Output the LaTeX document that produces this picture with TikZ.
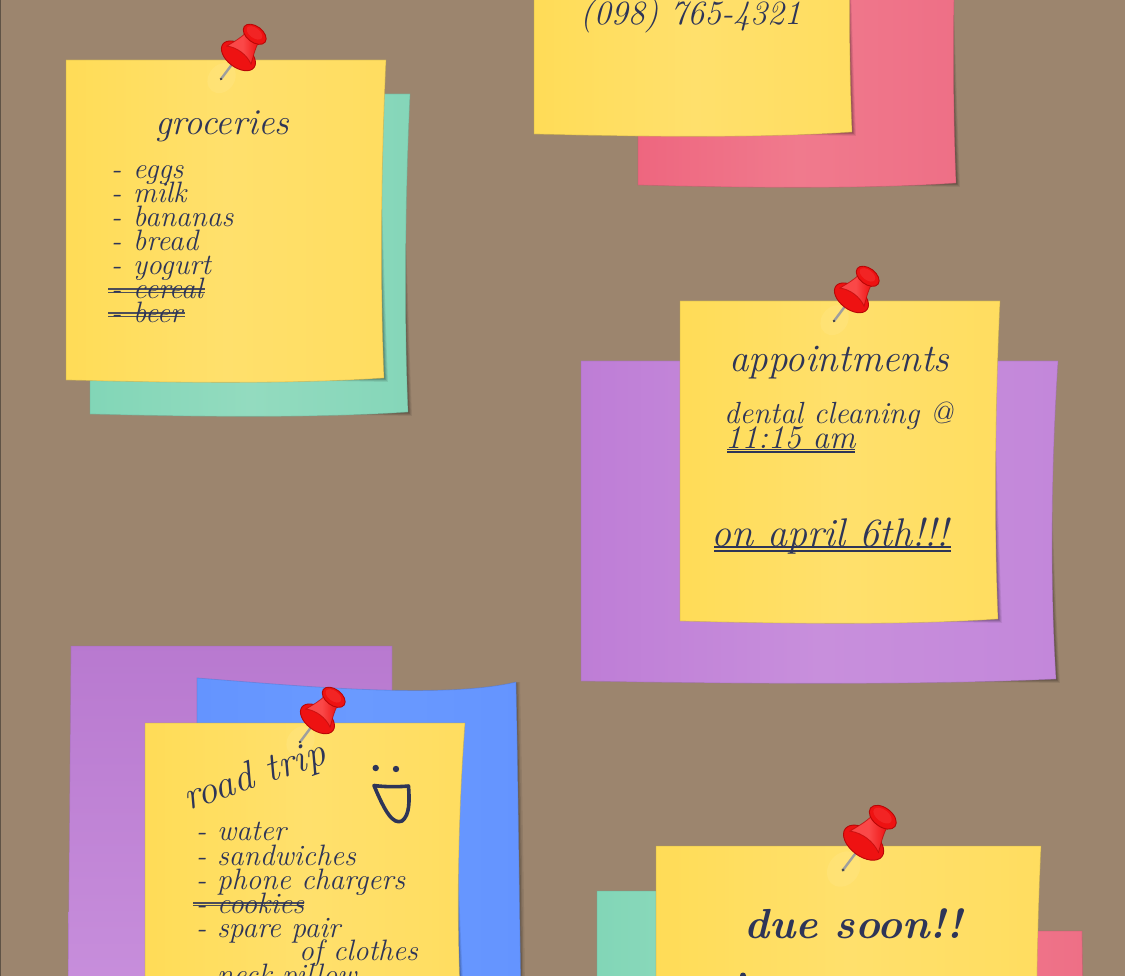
\documentclass[tikz,border=0pt]{standalone}
\usepackage{xcolor}
\definecolor{board}{HTML}{9C856E}
\definecolor{boardedge}{HTML}{5F5346}
\definecolor{ink}{HTML}{2E3558}
\definecolor{yL}{HTML}{FFDC57}\definecolor{yM}{HTML}{FFE06C}\definecolor{yR}{HTML}{FFDD60}
\definecolor{tL}{HTML}{82D6B7}\definecolor{tM}{HTML}{93DBBF}\definecolor{tR}{HTML}{85D6B9}
\definecolor{pL}{HTML}{EE667F}\definecolor{pM}{HTML}{F07A8D}\definecolor{pR}{HTML}{EE6F86}
\definecolor{vL}{HTML}{BE7DD6}\definecolor{vM}{HTML}{C88FDC}\definecolor{vR}{HTML}{C387DA}
\definecolor{bL}{HTML}{6494FF}\definecolor{bM}{HTML}{6A9AFF}\definecolor{bR}{HTML}{6494FF}
\definecolor{pinred}{HTML}{EE1212}\definecolor{pindark}{HTML}{B80606}\definecolor{pinlight}{HTML}{FA4848}
\tikzset{
  sheet/.style n args={4}{left color=#1,right color=#3,middle color=#2,draw=#4,draw opacity=.45,line width=.8pt},
  yellowsheet/.style={sheet={yL}{yM}{yR}{yR!75!black}},
  tealsheet/.style={sheet={tL}{tM}{tR}{tR!80!black}},
  pinksheet/.style={sheet={pL}{pM}{pR}{pR!80!black}},
  violetsheet/.style={sheet={vL}{vM}{vR}{vR!80!black}},
  bluesheet/.style={sheet={bL}{bM}{bR}{bR!80!black}},
  hand/.style={font=\fontsize{29.5}{29.5}\selectfont\itshape,text=ink,inner sep=0pt,anchor=base west},
  strikeline/.style={draw=ink,line width=1.1pt,opacity=.85},
  underl/.style={draw=ink,line width=1.3pt},
}
\newcommand{\handsize}[1]{\fontsize{#1}{#1}\selectfont\itshape}
% x y width height bow style
\newcommand{\stickynote}[6]{%
  \begin{scope}[shift={(#1,#2)}]
    \foreach \o/\a in {4/.07,3/.09,2/.12,1/.14}{
      \fill[black,opacity=\a] (#3*.66,#4) -- (#3-2+\o,#4-2+\o)
        .. controls (#3-#5-1+\o,#4*.7) and (#3-#5-1+.5*\o,#4*.4) .. (#3-#5-2,#4*.15) -- (#3*.66,#4*.15) -- cycle;}
    \path[#6] (0,0) -- (#3,0) .. controls (#3-#5,#4*.33) and (#3-#5-1,#4*.7) .. (#3-2,#4-2)
      .. controls (#3*.7,#4+4.5) and (#3*.3,#4+2.5) .. (0,#4) -- cycle;
  \end{scope}}
% tip x, tip y, scale
\newcommand{\pushpin}[3]{%
  \begin{scope}[shift={(#1,#2)},rotate=53,scale=#3]
    \fill[white,opacity=.07] (1,0) ellipse [x radius=16,y radius=13];
    \draw[line width=2.4pt,black!38] (0,0) -- (24,0);
    \fill[black!70] (0,0) circle [radius=1.4];
    \filldraw[draw=pindark,fill=pinred,line width=.9pt] (29,0) ellipse [x radius=11.5,y radius=19.5];
    \path[left color=pinlight,right color=pinred,middle color=pinlight,draw=pindark,draw opacity=.7,line width=.8pt]
      (30,15) .. controls (38,12) and (44,9) .. (52,8) -- (52,-8) .. controls (44,-9) and (38,-12) .. (30,-15)
      .. controls (35,-6) and (35,6) .. (30,15) -- cycle;
    \filldraw[draw=pindark,fill=pinred,line width=.9pt] (56,0) ellipse [x radius=8,y radius=13];
    \fill[pinlight,opacity=.35] (57,-1) ellipse [x radius=5,y radius=9];
  \end{scope}}
\begin{document}
\begin{tikzpicture}[x=1pt,y=-1pt]
\useasboundingbox (0,0) rectangle (1125,976);
\clip (0,0) rectangle (1125,976);
\fill[board] (0,0) rectangle (1125,976);
\draw[boardedge,line width=1.6pt] (0.4,0) -- (0.4,976);

% top-right stack
\stickynote{638}{-135}{320}{320}{5}{pinksheet}
\stickynote{534}{-186}{320}{320}{5}{yellowsheet}
\node[hand,font=\handsize{34}] (phone) at (580,25) {(098) 765-4321};

% groceries
\stickynote{90}{94}{320}{320}{5}{tealsheet}
\stickynote{66}{60}{320}{320}{5}{yellowsheet}
\pushpin{221}{79}{1}
\node[hand,font=\handsize{36.5}] (groceries) at (155,135) {groceries};
\node[hand] (g1) at (111,179) {\makebox[22pt][l]{-}eggs};
\node[hand] (g2) at (111,203) {\makebox[22pt][l]{-}milk};
\node[hand] (g3) at (111,227) {\makebox[22pt][l]{-}bananas};
\node[hand] (g4) at (111,251) {\makebox[22pt][l]{-}bread};
\node[hand] (g5) at (111,275) {\makebox[22pt][l]{-}yogurt};
\node[hand] (g6) at (111,299) {\makebox[22pt][l]{-}cereal};
\node[hand] (g7) at (111,323) {\makebox[22pt][l]{-}beer};
\draw[strikeline] (108,289) -- (205,289) (108,292.5) -- (205,292.5);
\draw[strikeline] (108,313) -- (185,313) (108,316.5) -- (185,316.5);

% appointments
\stickynote{581}{361}{477}{320}{7}{violetsheet}
\stickynote{680}{301}{320}{320}{5}{yellowsheet}
\pushpin{834}{321}{1}
\node[hand,font=\handsize{39}] (appt) at (729,372) {appointments};
\node[hand,font=\handsize{30.6}] (dental) at (724,424) {dental cleaning @};
\node[hand,font=\handsize{33}] (time) at (725,448) {11:15 am};
\draw[underl] (727,449.5) -- (855,449.5) (727,452) -- (855,452);
\node[hand,font=\handsize{40}] (date) at (711,546) {on april 6th!!!};
\draw[underl,line width=1.5pt] (714,547) -- (951,547) (714,551) -- (951,551);

% road trip
\path[top color=vL!97!black,bottom color=vM,draw=vR!80!black,draw opacity=.45,line width=.8pt]
  (71,646) -- (392,646) -- (392,1000) -- (68,1000) -- cycle;
\foreach \o/\a in {4/.07,2.5/.10,1.2/.14}{
  \fill[black,opacity=\a] (330,695) .. controls (420,697) and (480,692) .. (516+\o,682)
    .. controls (518+\o,780) and (520+\o,880) .. (521+\o,1000) -- (330,1000) -- cycle;}
\path[bluesheet] (197,678) .. controls (290,685) and (440,700) .. (516,682)
  .. controls (518,780) and (519,880) .. (521,1000) -- (197,1000) -- cycle;
\stickynote{145}{723}{320}{320}{8}{yellowsheet}
\pushpin{300}{742}{1}
\node[hand,font=\handsize{40},rotate=19] (roadtrip) at (188,811) {road trip};
\node[hand] (r1) at (196,840) {\makebox[21pt][l]{-}water};
\node[hand] (r2) at (196,865) {\makebox[21pt][l]{-}sandwiches};
\node[hand] (r3) at (196,889) {\makebox[21pt][l]{-}phone chargers};
\node[hand] (r4) at (196,913) {\makebox[21pt][l]{-}cookies};
\node[hand] (r5) at (196,937) {\makebox[21pt][l]{-}spare pair};
\node[hand] (r6) at (299,960) {of clothes};
\node[hand] (r7) at (196,984) {\makebox[21pt][l]{-}neck pillow};
\draw[strikeline] (193,903) -- (304,903) (193,905.5) -- (304,905.5);
\fill[ink] (375.7,768) circle [radius=3.2];
\fill[ink] (396,769) circle [radius=3.2];
\draw[ink,line width=3.6pt,line join=round,line cap=round]
  (374,785.5) .. controls (385,787) and (398,787) .. (408.5,786)
  .. controls (409.5,800) and (410,815) .. (402,821)
  .. controls (393,825) and (385,812) .. (374,785.5) -- cycle;

% due soon
\stickynote{597}{891}{320}{320}{5}{tealsheet}
\path[pinksheet] (800,931) -- (1082,931) -- (1083,1000) -- (800,1000) -- cycle;
\stickynote{656}{846}{385}{320}{5}{yellowsheet}
\pushpin{843}{870}{1.18}
\node[hand,font=\fontsize{42}{42}\selectfont\bfseries\itshape] (due) at (744,938) {due soon!!};
\fill[ink] (743,975.5) circle [radius=3];
\end{tikzpicture}
\end{document}
